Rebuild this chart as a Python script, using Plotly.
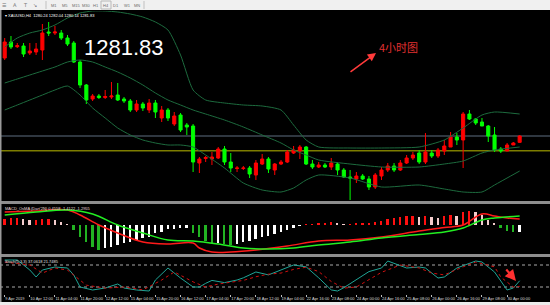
import plotly.graph_objects as go

W, H = 550, 305

# ---------------- data ----------------
symbol_header = "▾ XAUUSD,H4  1280.24 1282.04 1280.14 1281.83"
macd_header = "MACD_OsMA (Dart'2N) 0.4558 -1.4122 -1.2955"
stoch_header = "Stoch(5,3,3) 37.0618 21.7485"
last_price_text = "1281.83"
note_text = "4小时图"
timeframes = ["M1", "M5", "M15", "M30", "H1", "H4", "D1", "W1", "MN"]

time_labels = ["9 Apr 2019", "10 Apr 12:00", "11 Apr 04:00", "11 Apr 20:00", "12 Apr 12:00",
               "15 Apr 04:00", "15 Apr 20:00", "16 Apr 12:00", "17 Apr 04:00", "17 Apr 20:00",
               "18 Apr 12:00", "19 Apr 04:00", "22 Apr 16:00", "23 Apr 08:00", "24 Apr 00:00",
               "24 Apr 16:00", "25 Apr 08:00", "26 Apr 00:00", "26 Apr 16:00", "29 Apr 08:00",
               "30 Apr 00:00"]
label_bars = [4 * i for i in range(len(time_labels))]

opens = [1301.33, 1305.33, 1304.16, 1304.33, 1302.58, 1302.83, 1303.33, 1307.83, 1307.58, 1307.58,
         1306.33, 1305.08, 1300.33, 1294.58, 1291.08, 1291.83, 1291.45, 1291.58, 1292.08, 1291.08,
         1290.58, 1288.33, 1289.83, 1288.33, 1290.08, 1286.33, 1288.33, 1284.83, 1287.08, 1284.58,
         1284.33, 1275.08, 1276.21, 1276.08, 1276.33, 1278.58, 1275.33, 1273.70, 1273.70, 1273.83,
         1272.08, 1274.83, 1276.08, 1273.33, 1274.83, 1275.33, 1277.58, 1278.08, 1279.08, 1274.83,
         1274.08, 1274.58, 1274.08, 1274.83, 1273.33, 1271.58, 1271.08, 1271.83, 1271.08, 1269.08,
         1271.83, 1273.33, 1274.33, 1273.33, 1275.08, 1276.33, 1277.58, 1275.33, 1277.58, 1276.83,
         1278.08, 1279.08, 1281.58, 1280.83, 1287.33, 1286.08, 1285.33, 1284.33, 1282.08, 1278.58,
         1278.08, 1279.58, 1280.24]
highs = [1306.33, 1306.83, 1305.08, 1305.08, 1305.08, 1305.08, 1309.83, 1310.33, 1309.33, 1308.33,
         1307.08, 1305.58, 1300.83, 1294.83, 1292.33, 1292.33, 1293.33, 1295.33, 1295.08, 1291.58,
         1291.08, 1290.83, 1290.33, 1291.08, 1290.83, 1289.33, 1288.83, 1287.83, 1287.58, 1285.08,
         1284.83, 1276.58, 1276.83, 1277.83, 1279.08, 1279.33, 1277.58, 1274.33, 1274.33, 1274.33,
         1275.83, 1277.33, 1276.58, 1275.08, 1275.83, 1278.33, 1279.33, 1279.58, 1279.33, 1275.83,
         1275.33, 1275.08, 1276.33, 1275.33, 1273.83, 1273.33, 1272.83, 1272.33, 1271.83, 1272.58,
         1274.08, 1275.08, 1275.08, 1275.83, 1277.08, 1277.83, 1278.33, 1282.58, 1278.33, 1278.83,
         1280.83, 1282.83, 1282.58, 1287.83, 1288.33, 1286.33, 1286.33, 1284.58, 1284.08, 1279.08,
         1280.08, 1280.33, 1282.04]
lows = [1300.83, 1303.58, 1303.83, 1301.58, 1302.08, 1302.08, 1300.83, 1306.83, 1307.08, 1305.83,
        1304.33, 1300.08, 1293.83, 1289.83, 1290.58, 1291.08, 1291.08, 1291.08, 1290.58, 1290.08,
        1287.83, 1287.83, 1288.08, 1287.58, 1286.33, 1285.33, 1285.58, 1284.33, 1282.83, 1282.08,
        1272.83, 1272.58, 1275.33, 1274.58, 1276.08, 1274.58, 1272.83, 1272.83, 1273.33, 1271.33,
        1270.83, 1274.58, 1272.58, 1272.08, 1274.58, 1275.08, 1277.33, 1276.08, 1274.58, 1273.58,
        1273.83, 1273.83, 1273.33, 1272.08, 1271.33, 1265.83, 1270.08, 1270.83, 1268.33, 1268.58,
        1270.83, 1272.83, 1272.83, 1273.08, 1274.83, 1275.83, 1274.83, 1274.83, 1276.33, 1276.33,
        1277.08, 1279.08, 1279.58, 1273.83, 1285.83, 1284.58, 1284.33, 1280.33, 1277.83, 1277.58,
        1278.08, 1279.58, 1280.14]
closes = [1305.33, 1304.08, 1304.41, 1302.33, 1303.08, 1303.58, 1307.58, 1307.58, 1307.83, 1306.33,
          1304.83, 1300.33, 1294.58, 1290.83, 1291.83, 1291.45, 1291.70, 1291.83, 1290.83, 1290.58,
          1288.33, 1289.83, 1288.83, 1290.08, 1287.83, 1288.33, 1286.33, 1286.83, 1283.33, 1284.08,
          1275.33, 1276.08, 1276.45, 1276.58, 1278.58, 1275.33, 1273.83, 1273.83, 1273.83, 1272.33,
          1275.08, 1276.08, 1273.58, 1274.83, 1275.33, 1277.83, 1278.33, 1279.08, 1274.83, 1274.08,
          1274.58, 1274.08, 1275.08, 1273.33, 1271.58, 1271.33, 1271.83, 1271.08, 1269.08, 1272.08,
          1273.33, 1274.33, 1273.33, 1275.08, 1276.33, 1277.08, 1275.33, 1277.83, 1276.83, 1278.33,
          1279.33, 1281.58, 1280.83, 1287.33, 1286.08, 1285.08, 1284.33, 1281.83, 1278.33, 1278.08,
          1279.58, 1280.08, 1281.83]

bid_price = 1281.83
level_price = 1278.16

band_bars = [0, 2, 4, 6, 8, 10, 12, 14, 16, 18, 20, 22, 24, 26, 28, 30, 32, 35, 38, 41, 44, 46,
             48, 50, 55, 60, 66, 70, 73, 76, 78, 82]
bb_upper = [1304.08, 1306.33, 1307.58, 1308.33, 1309.58, 1311.33, 1312.58, 1313.08, 1313.08,
            1312.83, 1312.33, 1311.58, 1310.33, 1308.33, 1302.08, 1293.33, 1290.83, 1290.08,
            1289.58, 1289.33, 1288.33, 1284.58, 1280.83, 1279.08, 1278.83, 1278.83, 1279.08,
            1280.83, 1283.83, 1287.08, 1287.83, 1287.33]
bb_middle = [1295.08, 1296.08, 1297.08, 1298.08, 1299.08, 1300.33, 1300.83, 1300.33, 1299.08,
             1297.83, 1296.33, 1294.58, 1292.58, 1290.83, 1289.58, 1288.33, 1287.33, 1285.83,
             1284.08, 1282.08, 1280.08, 1278.33, 1277.08, 1275.83, 1274.83, 1274.08, 1274.08,
             1274.83, 1275.58, 1277.58, 1278.33, 1279.08]
bb_lower = [1288.33, 1289.58, 1290.83, 1292.08, 1293.33, 1294.33, 1292.08, 1288.83, 1286.33,
            1283.83, 1282.08, 1280.83, 1280.08, 1279.58, 1279.58, 1279.08, 1277.08, 1273.83,
            1270.08, 1268.33, 1267.83, 1268.83, 1270.83, 1272.08, 1271.33, 1269.08, 1269.58,
            1268.58, 1267.83, 1267.83, 1269.58, 1273.08]

macd_hist = [1.2, 1.4, 1.4, 1.2, 1.0, 1.0, 1.2, 1.2, 1.0, 0.6, 0.2,
             -1.0, -2.4, -3.4, -4.4, -5.0,
             -4.6, -4.4, -4.0, -3.6, -3.4, -3.0, -2.6, -2.4, -1.6, -1.4, -0.8, -0.8, -0.6,
             -0.6, -1.6, -2.4,
             -3.2, -3.6, -3.6, -3.8, -4.0, -3.8, -3.4, -3.2, -2.8, -2.4, -2.2, -1.8, -1.4, -1.0,
             -0.6, -0.2, 0.2, 0.2, 0.4, 0.4, 0.6, 0.4, 0.2, 0.2, 0.4, 0.4, 0.4, 0.6,
             0.8, 1.2, 1.4, 1.6, 1.8, 1.8, 1.6, 1.8, 1.6, 1.4, 1.8, 2.0, 1.8, 2.6, 2.8, 2.6,
             2.0, 1.0, 0.4, -0.6, -1.2, -1.4, -1.4]
macd_main_bars = [0, 5, 10, 12, 15, 18, 22, 26, 30, 31, 33, 36, 40, 45, 50, 55, 60, 66, 70, 73,
                  76, 78, 80, 82]
macd_main = [2.6, 2.8, 3.0, 2.0, 0.0, -1.6, -3.4, -3.8, -3.6, -4.6, -5.4, -5.4, -5.0, -4.2,
             -3.2, -3.0, -2.4, -1.2, -0.5, 0.0, 2.2, 1.8, 1.4, 1.2]
macd_signal_bars = [0, 5, 10, 14, 18, 22, 26, 30, 34, 38, 42, 46, 50, 55, 60, 66, 70, 73, 76,
                    78, 82]
macd_signal = [2.0, 2.6, 3.0, 2.2, 0.0, -1.6, -3.0, -3.2, -3.8, -4.6, -4.8, -4.6, -4.0, -3.4,
               -2.6, -1.9, -1.4, -0.6, 1.0, 1.4, 1.8]

stoch_k_bars = [0, 2, 4, 5, 6, 8, 10, 11, 12, 14, 16, 18, 19, 21, 23, 24, 26, 28, 30, 31, 32,
                33, 35, 37, 38, 40, 42, 44, 46, 48, 50, 52, 53, 54, 56, 58, 60, 61, 64, 66, 67,
                69, 70, 72, 75, 76, 78, 80, 81, 82]
stoch_k = [93.6, 93.6, 66.4, 47.3, 66.4, 74.5, 71.8, 52.7, 20.0, 11.8, 17.3, 28.2, 17.3, 11.8,
           9.1, 39.1, 71.8, 44.5, 20.0, 20.0, 30, 38, 32, 39, 45, 61, 53, 66, 80, 75, 45, 12, 9,
           18, 40, 62, 71.8, 90.9, 71.8, 74.5, 71.8, 44.5, 47.3, 71.8, 90.9, 88.2, 60.9, 11.8,
           17.3, 37.06]
stoch_d_bars = [0, 4, 6, 8, 10, 13, 16, 19, 22, 25, 27, 30, 32, 34, 36, 38, 40, 42, 44, 46, 48,
                50, 52, 54, 56, 58, 60, 63, 66, 68, 70, 73, 75, 78, 79, 81, 82]
stoch_d = [88, 80, 58, 72, 66, 25, 17, 20, 12, 39, 61, 34, 20, 28, 33, 38, 48, 55, 58, 68, 74,
           62, 35, 17, 20, 40, 60, 80, 72, 58, 53, 75, 88, 75, 47, 20, 21.75]
stoch_levels = [80, 20]

# ---------------- styling / layout ----------------
bars = list(range(len(opens)))
BAR0_PX, BAR_STEP_PX = 4.7, 6.28
x_range = [(0 - BAR0_PX) / BAR_STEP_PX, (W - BAR0_PX) / BAR_STEP_PX]


def py(p):
    return 1 - p / H


def px(p):
    return p / W


MAIN_TOP, MAIN_BOT = 11, 201
MACD_TOP, MACD_BOT = 204, 254
ST_TOP, ST_BOT = 257, 294

main_range = [1315.83 - MAIN_BOT / 4, 1315.83 - MAIN_TOP / 4]
macd_range = [(225 - MACD_BOT) / 5, (225 - MACD_TOP) / 5]
st_range = [20 - (ST_BOT - 287) / 0.3667, 20 + (287 - ST_TOP) / 0.3667]

hist_colors = []
for i, v in enumerate(macd_hist):
    prev = macd_hist[i - 1] if i > 0 else v
    if v >= 0:
        hist_colors.append("#ff1010" if v >= prev else "#f3cccc")
    else:
        hist_colors.append("#22b322" if v < prev else "#ffffff")

fig = go.Figure()
band_line = dict(color="#1d6b3e", width=1, shape="spline", smoothing=0.6)
for arr in (bb_upper, bb_middle, bb_lower):
    fig.add_trace(go.Scatter(x=band_bars, y=arr, mode="lines", line=band_line,
                             xaxis="x", yaxis="y", hoverinfo="skip"))
fig.add_trace(go.Candlestick(
    x=bars, open=opens, high=highs, low=lows, close=closes,
    increasing=dict(line=dict(color="#ff0000", width=1), fillcolor="#ff0000"),
    decreasing=dict(line=dict(color="#00ff00", width=1), fillcolor="#00ff00"),
    whiskerwidth=0, xaxis="x", yaxis="y", hoverinfo="skip"))

fig.add_trace(go.Bar(x=bars, y=macd_hist, marker=dict(color=hist_colors, line=dict(width=0)),
                     width=0.3, xaxis="x2", yaxis="y2", hoverinfo="skip"))
fig.add_trace(go.Scatter(x=macd_main_bars, y=macd_main, mode="lines",
                         line=dict(color="#ff1a1a", width=1.5, shape="spline"),
                         xaxis="x2", yaxis="y2", hoverinfo="skip"))
fig.add_trace(go.Scatter(x=macd_signal_bars, y=macd_signal, mode="lines",
                         line=dict(color="#22ee22", width=1.5, shape="spline"),
                         xaxis="x2", yaxis="y2", hoverinfo="skip"))

fig.add_trace(go.Scatter(x=stoch_k_bars, y=stoch_k, mode="lines",
                         line=dict(color="#1fa596", width=1),
                         xaxis="x3", yaxis="y3", hoverinfo="skip"))
fig.add_trace(go.Scatter(x=stoch_d_bars, y=stoch_d, mode="lines",
                         line=dict(color="#d01010", width=1, dash="dot"),
                         xaxis="x3", yaxis="y3", hoverinfo="skip"))

shapes = []
shapes.append(dict(type="line", xref="paper", yref="y", x0=0, x1=1, y0=bid_price, y1=bid_price,
                   line=dict(color="#5f6f80", width=1), layer="below"))
shapes.append(dict(type="line", xref="paper", yref="y", x0=0, x1=1, y0=level_price,
                   y1=level_price, line=dict(color="#7d7d00", width=1.5), layer="below"))
for lv in stoch_levels:
    shapes.append(dict(type="line", xref="paper", yref="y3", x0=0, x1=1, y0=lv, y1=lv,
                       line=dict(color="#a8a8a8", width=1, dash="dot"), layer="below"))
shapes.append(dict(type="rect", xref="paper", yref="paper", x0=0, x1=1, y0=py(10), y1=1,
                   fillcolor="#f0f0f0", line=dict(width=0), layer="above"))
shapes.append(dict(type="rect", xref="paper", yref="paper", x0=px(101), x1=px(111),
                   y0=py(9), y1=py(1), fillcolor="rgba(0,0,0,0)",
                   line=dict(color="#b8b8b8", width=1), layer="above"))
for sx in (46, 144):
    shapes.append(dict(type="line", xref="paper", yref="paper", x0=px(sx), x1=px(sx),
                       y0=py(9), y1=py(1), line=dict(color="#c0c0c0", width=1), layer="above"))
for a, b in ((MAIN_BOT, MACD_TOP), (MACD_BOT, ST_TOP)):
    shapes.append(dict(type="rect", xref="paper", yref="paper", x0=0, x1=1, y0=py(b), y1=py(a),
                       fillcolor="#8e8e8e", line=dict(width=0), layer="above"))
shapes.append(dict(type="rect", xref="paper", yref="paper", x0=0, x1=1, y0=0, y1=py(302),
                   fillcolor="#ececec", line=dict(width=0), layer="above"))
shapes.append(dict(type="rect", xref="paper", yref="paper", x0=0, x1=px(1.5), y0=py(302),
                   y1=py(10), fillcolor="#9a9a9a", line=dict(width=0), layer="above"))

ann = []
tiny = dict(family="Liberation Sans, Arial", size=4)
tf_x = [54, 65, 76, 86, 96, 106, 116, 127, 137]
for t, xx in zip(timeframes, tf_x):
    ann.append(dict(text=t, x=px(xx), y=py(5), xref="paper", yref="paper", showarrow=False,
                    font=dict(family="Liberation Sans, Arial", size=4, color="#6a6a6a"),
                    xanchor="center", yanchor="middle"))
for t, xx in zip(["☰", "A", "T", "↘"], [4, 15, 25, 35]):
    ann.append(dict(text=t, x=px(xx), y=py(5), xref="paper", yref="paper", showarrow=False,
                    font=dict(family="DejaVu Sans", size=5, color="#707070"),
                    xanchor="center", yanchor="middle"))
ann.append(dict(text=symbol_header, x=px(3), y=py(15), xref="paper", yref="paper",
                showarrow=False, font=dict(tiny, color="#ffffff"), xanchor="left",
                yanchor="middle"))
ann.append(dict(text=macd_header, x=px(3), y=py(208), xref="paper", yref="paper",
                showarrow=False, font=dict(tiny, color="#f0dede"), xanchor="left",
                yanchor="middle"))
ann.append(dict(text=stoch_header, x=px(3), y=py(261), xref="paper", yref="paper",
                showarrow=False, font=dict(tiny, color="#e0e0e0"), xanchor="left",
                yanchor="middle"))
ann.append(dict(text=last_price_text, x=px(82), y=py(47.5), xref="paper", yref="paper",
                showarrow=False,
                font=dict(family="Liberation Sans, Arial", size=22, color="#ffffff"),
                xanchor="left", yanchor="middle"))
ann.append(dict(text=note_text, x=px(377), y=py(47), xref="paper", yref="paper",
                showarrow=False,
                font=dict(family="Noto Sans CJK SC", size=11, color="#e03030"),
                xanchor="left", yanchor="middle"))
ann.append(dict(text="", x=px(376), y=py(53), xref="paper", yref="paper", showarrow=True,
                ax=-27, ay=20, arrowhead=2, arrowsize=1.1, arrowwidth=1.5,
                arrowcolor="#ff3b3b"))
ann.append(dict(text="", x=px(516), y=py(281), xref="paper", yref="paper", showarrow=True,
                ax=-11, ay=-13, arrowhead=2, arrowsize=1.0, arrowwidth=2.2,
                arrowcolor="#ff3030"))

fig.update_layout(
    width=W, height=H, margin=dict(l=0, r=0, t=0, b=0),
    paper_bgcolor="#000000", plot_bgcolor="rgba(0,0,0,0)",
    showlegend=False, hovermode=False, bargap=0,
    shapes=shapes, annotations=ann,
    xaxis=dict(domain=[0, 1], range=x_range, visible=False, anchor="y",
               rangeslider=dict(visible=False), fixedrange=True),
    yaxis=dict(domain=[py(MAIN_BOT), py(MAIN_TOP)], range=main_range, visible=False),
    xaxis2=dict(domain=[0, 1], range=x_range, visible=False, anchor="y2", matches="x"),
    yaxis2=dict(domain=[py(MACD_BOT), py(MACD_TOP)], range=macd_range, visible=False),
    xaxis3=dict(domain=[0, 1], range=x_range, anchor="y3", matches="x",
                tickvals=label_bars, ticktext=time_labels, ticks="outside", ticklen=2,
                tickcolor="#bdbdbd", showgrid=False, zeroline=False, showline=False,
                ticklabelposition="outside right", tickangle=0,
                tickfont=dict(family="Liberation Sans, Arial", size=4, color="#dcdcdc")),
    yaxis3=dict(domain=[py(ST_BOT), py(ST_TOP)], range=st_range, visible=False),
)

fig.write_html("out.html")
